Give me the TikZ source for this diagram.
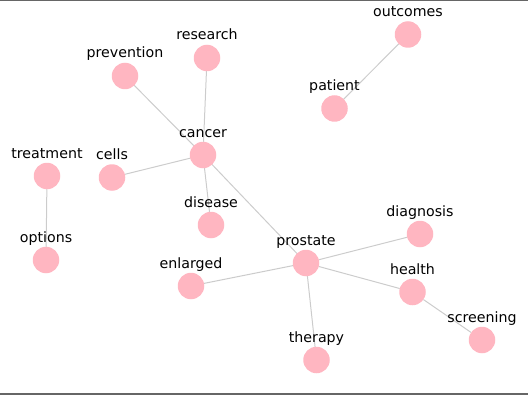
\documentclass[tikz,border=0pt]{standalone}
\usepackage{fontspec}
\setmainfont{DejaVu Sans}
\usetikzlibrary{backgrounds}
\definecolor{nodepink}{RGB}{255, 182, 193}
\definecolor{edgegray}{gray}{0.8}
\definecolor{framegray}{gray}{0.4}
\tikzset{
  word/.style={circle, fill=nodepink, minimum size=26.5pt, inner sep=0pt, outer sep=0pt},
  wordlabel/.style={anchor=base, inner sep=0pt, font=\fontsize{14.2}{16}\selectfont},
  link/.style={draw=edgegray, line width=1pt}
}

\begin{document}
\begin{tikzpicture}[x=1pt, y=-1pt]
  \useasboundingbox (0, 0) rectangle (528, 396);
  \draw[framegray, line width=1.3] (0, 0.6) -- (528, 0.6);
  \draw[framegray, line width=1.3] (0, 394) -- (528, 394);

  \node[word] (outcomes) at (408, 34.5) {};
  \node[word] (patient) at (334.5, 108.5) {};
  \node[word] (research) at (207, 58) {};
  \node[word] (prevention) at (125, 76) {};
  \node[word] (cancer) at (203, 155) {};
  \node[word] (treatment) at (47, 176) {};
  \node[word] (cells) at (112, 177.5) {};
  \node[word] (disease) at (211, 225) {};
  \node[word] (options) at (46, 260) {};
  \node[word] (prostate) at (306, 263) {};
  \node[word] (diagnosis) at (420, 234) {};
  \node[word] (enlarged) at (191, 286) {};
  \node[word] (health) at (412.5, 292) {};
  \node[word] (screening) at (482, 340) {};
  \node[word] (therapy) at (316.5, 360) {};

  \node[wordlabel] (outcomes-l) at ([yshift=18pt]outcomes.center) {outcomes};
  \node[wordlabel] (patient-l) at ([yshift=18pt]patient.center) {patient};
  \node[wordlabel] (research-l) at ([yshift=18pt]research.center) {research};
  \node[wordlabel] (prevention-l) at ([yshift=18pt]prevention.center) {prevention};
  \node[wordlabel] (cancer-l) at ([yshift=18pt]cancer.center) {cancer};
  \node[wordlabel] (treatment-l) at ([yshift=18pt]treatment.center) {treatment};
  \node[wordlabel] (cells-l) at ([yshift=18pt]cells.center) {cells};
  \node[wordlabel] (disease-l) at ([yshift=18pt]disease.center) {disease};
  \node[wordlabel] (options-l) at ([yshift=18pt]options.center) {options};
  \node[wordlabel] (prostate-l) at ([yshift=18pt]prostate.center) {prostate};
  \node[wordlabel] (diagnosis-l) at ([yshift=18pt]diagnosis.center) {diagnosis};
  \node[wordlabel] (enlarged-l) at ([yshift=18pt]enlarged.center) {enlarged};
  \node[wordlabel] (health-l) at ([yshift=18pt]health.center) {health};
  \node[wordlabel] (screening-l) at ([yshift=18pt]screening.center) {screening};
  \node[wordlabel] (therapy-l) at ([yshift=18pt]therapy.center) {therapy};

  \begin{scope}[on background layer]
    \draw[link] (outcomes) -- (patient);
    \draw[link] (research) -- (cancer);
    \draw[link] (prevention) -- (cancer);
    \draw[link] (cells) -- (cancer);
    \draw[link] (disease) -- (cancer);
    \draw[link] (cancer) -- (prostate);
    \draw[link] (treatment) -- (options);
    \draw[link] (prostate) -- (diagnosis);
    \draw[link] (prostate) -- (enlarged);
    \draw[link] (prostate) -- (health);
    \draw[link] (prostate) -- (therapy);
    \draw[link] (health) -- (screening);
  \end{scope}
\end{tikzpicture}
\end{document}
